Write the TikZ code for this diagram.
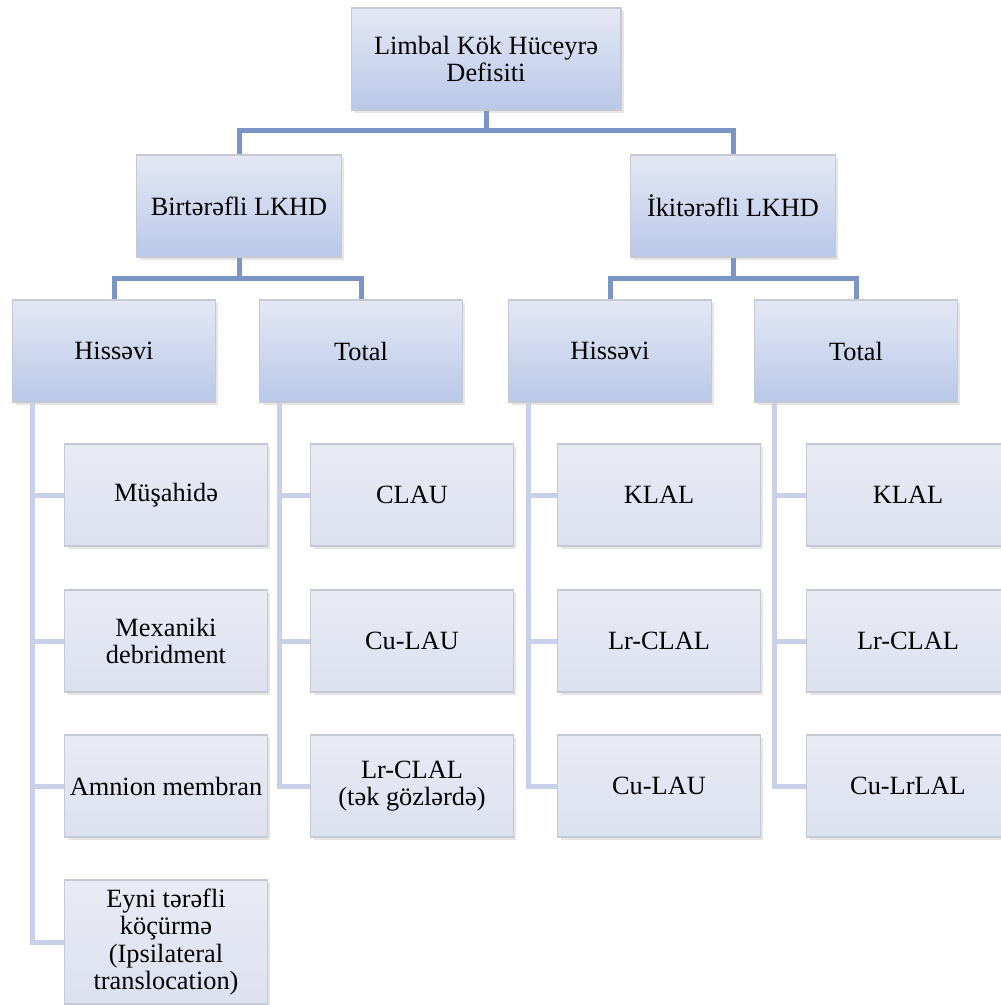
\documentclass[tikz,border=0pt]{standalone}
\usepackage{fontspec}
\setmainfont{Liberation Serif}
\usetikzlibrary{shadows}
\definecolor{linkblue}{HTML}{7B96C4}
\definecolor{linklight}{HTML}{C9D1EA}
\definecolor{boxtop}{HTML}{E4E8F4}
\definecolor{boxbot}{HTML}{B9C8E9}
\definecolor{leaftop}{HTML}{E9EBF4}
\definecolor{leafbot}{HTML}{DCE1F0}
\definecolor{boxline}{HTML}{C5C9D3}
\tikzstyle{box} = [draw=boxline, line width=0.6pt, top color=boxtop, bottom color=boxbot, align=center, minimum width=4.06cm, minimum height=2.04cm, inner sep=0pt, font=\fontsize{15}{15.5}\selectfont, drop shadow={opacity=0.2,shadow xshift=0.06cm,shadow yshift=-0.06cm}]
\tikzstyle{leaf} = [box, top color=leaftop, bottom color=leafbot]
\tikzstyle{mainlink} = [linkblue, line width=0.1cm]
\tikzstyle{sublink} = [linklight, line width=0.1cm]

\begin{document}
\begin{tikzpicture}[x=0.02cm,y=-0.02cm]
    \useasboundingbox (0,0) rectangle (1001,1005);
    \draw (486,59) node[box, minimum width=5.4cm](root){Limbal Kök Hüceyrə\\Defisiti};
    \draw (239,206) node[box, minimum width=4.1cm](bir){Birtərəfli LKHD};
    \draw (733,206) node[box, minimum width=4.1cm](iki){İkitərəfli LKHD};
    \draw (114,351) node[box](hisA){Hissəvi};
    \draw (361,351) node[box](totA){Total};
    \draw (610,351) node[box](hisB){Hissəvi};
    \draw (856,351) node[box](totB){Total};
    \draw (166,495) node[leaf](musa){Müşahidə};
    \draw (166,641) node[leaf](mexa){Mexaniki\\debridment};
    \draw (166,786) node[leaf](amni){Amnion membran};
    \draw (166,942) node[leaf, minimum height=2.48cm](eyni){Eyni tərəfli\\köçürmə\\(Ipsilateral\\translocation)};
    \draw (412,495) node[leaf](clau){CLAU};
    \draw (412,641) node[leaf](culauA){Cu-LAU};
    \draw (412,786) node[leaf](lrA){Lr-CLAL\\(tək gözlərdə)};
    \draw (659,495) node[leaf](klalB){KLAL};
    \draw (659,641) node[leaf](lrB){Lr-CLAL};
    \draw (659,786) node[leaf](culauB){Cu-LAU};
    \draw (908,495) node[leaf](klalC){KLAL};
    \draw (908,641) node[leaf](lrC){Lr-CLAL};
    \draw (908,786) node[leaf](culrC){Cu-LrLAL};
    \draw[mainlink] (root.south) -- ++(0,20) -| (bir.north);
    \draw[mainlink] (root.south) -- ++(0,20) -| (iki.north);
    \draw[mainlink] (bir.south) -- ++(0,21) -| (hisA.north);
    \draw[mainlink] (bir.south) -- ++(0,21) -| (totA.north);
    \draw[mainlink] (iki.south) -- ++(0,21) -| (hisB.north);
    \draw[mainlink] (iki.south) -- ++(0,21) -| (totB.north);
    \draw[sublink] ([xshift=0.42cm]hisA.south west) |- (musa.west);
    \draw[sublink] ([xshift=0.42cm]hisA.south west) |- (mexa.west);
    \draw[sublink] ([xshift=0.42cm]hisA.south west) |- (amni.west);
    \draw[sublink] ([xshift=0.42cm]hisA.south west) |- (eyni.west);
    \draw[sublink] ([xshift=0.42cm]totA.south west) |- (clau.west);
    \draw[sublink] ([xshift=0.42cm]totA.south west) |- (culauA.west);
    \draw[sublink] ([xshift=0.42cm]totA.south west) |- (lrA.west);
    \draw[sublink] ([xshift=0.42cm]hisB.south west) |- (klalB.west);
    \draw[sublink] ([xshift=0.42cm]hisB.south west) |- (lrB.west);
    \draw[sublink] ([xshift=0.42cm]hisB.south west) |- (culauB.west);
    \draw[sublink] ([xshift=0.42cm]totB.south west) |- (klalC.west);
    \draw[sublink] ([xshift=0.42cm]totB.south west) |- (lrC.west);
    \draw[sublink] ([xshift=0.42cm]totB.south west) |- (culrC.west);
\end{tikzpicture}
\end{document}
